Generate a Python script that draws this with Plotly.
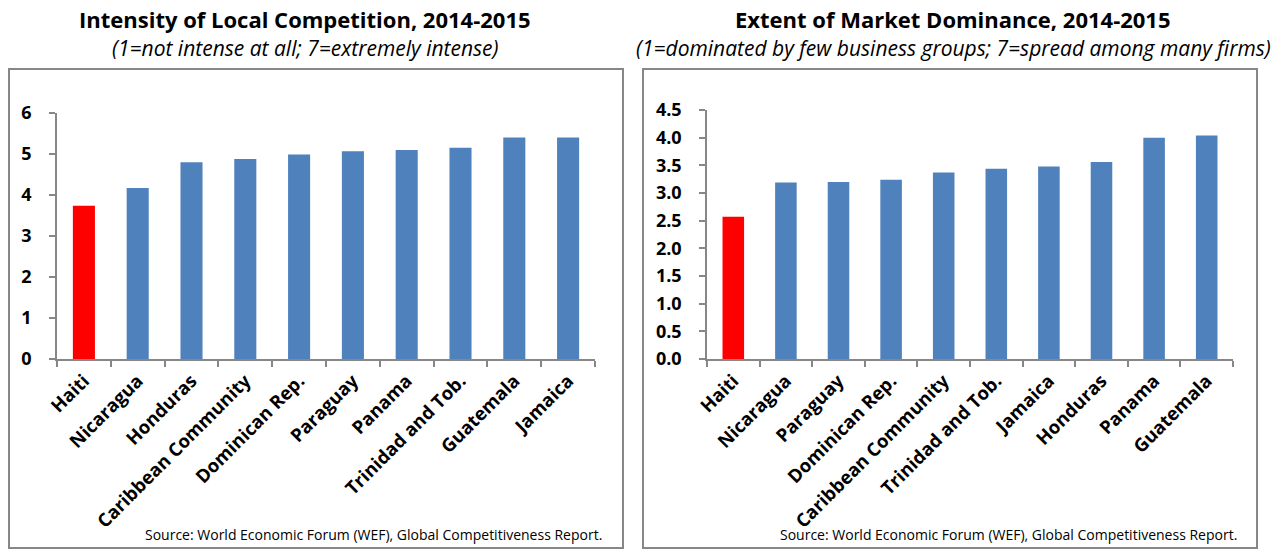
import plotly.graph_objects as go

# Left chart data
left_categories = ["Haiti", "Nicaragua", "Honduras", "Caribbean Community", "Dominican Rep.",
                   "Paraguay", "Panama", "Trinidad and Tob.", "Guatemala", "Jamaica"]
left_values = [3.74, 4.17, 4.80, 4.88, 4.99, 5.07, 5.10, 5.15, 5.40, 5.40]

# Right chart data
right_categories = ["Haiti", "Nicaragua", "Paraguay", "Dominican Rep.", "Caribbean Community",
                    "Trinidad and Tob.", "Jamaica", "Honduras", "Panama", "Guatemala"]
right_values = [2.57, 3.19, 3.20, 3.24, 3.37, 3.44, 3.48, 3.56, 4.00, 4.04]

left_title = "Intensity of Local Competition, 2014-2015"
left_subtitle = "(1=not intense at all; 7=extremely intense)"
right_title = "Extent of Market Dominance, 2014-2015"
right_subtitle = "(1=dominated by few business groups; 7=spread among many firms)"
source_text = "Source: World Economic Forum (WEF), Global Competitiveness Report."

W, H = 1278, 552
FONT = "Open Sans, sans-serif"
BLUE = "#4F81BD"
RED = "#FF0000"
GRAY = "#878787"


def fx(px):
    return px / W


def fy(py):
    return 1 - py / H


def colors(cats):
    return [RED if c == "Haiti" else BLUE for c in cats]


fig = go.Figure()
fig.add_trace(go.Bar(x=left_categories, y=left_values, marker_color=colors(left_categories),
                     marker_line_width=0, xaxis="x", yaxis="y", showlegend=False,
                     hoverinfo="x+y"))
fig.add_trace(go.Bar(x=right_categories, y=right_values, marker_color=colors(right_categories),
                     marker_line_width=0, xaxis="x2", yaxis="y2", showlegend=False,
                     hoverinfo="x+y"))

xcommon = dict(type="category", showline=True, linecolor=GRAY, linewidth=1.5,
               ticks="outside", tickson="boundaries", ticklen=6, tickcolor=GRAY,
               tickwidth=1.5, tickangle=-45, showgrid=False, zeroline=False,
               automargin=False, ticklabelstandoff=2,
               tickfont=dict(family=FONT, size=18.5, color="#000000", weight="bold"))
ycommon = dict(showline=True, linecolor=GRAY, linewidth=1.5, ticks="outside",
               ticklen=6, tickcolor=GRAY, tickwidth=1.5, showgrid=False,
               zeroline=False, automargin=False, ticklabelstandoff=14,
               tickfont=dict(family=FONT, size=18, color="#000000", weight="bold"))

fig.update_layout(
    width=W, height=H,
    margin=dict(l=0, r=0, t=0, b=0, pad=0),
    paper_bgcolor="white", plot_bgcolor="white",
    bargap=0.59,
    xaxis=dict(domain=[fx(57), fx(595)], anchor="y", **xcommon),
    yaxis=dict(domain=[fy(359), fy(113)], anchor="x", range=[0, 6], dtick=1,
               tickformat="d", **ycommon),
    xaxis2=dict(domain=[fx(707), fx(1233)], anchor="y2", **xcommon),
    yaxis2=dict(domain=[fy(359), fy(110)], anchor="x2", range=[0, 4.5], dtick=0.5,
                tickformat=".1f", **ycommon),
)

# frames
for x0, x1 in [(9, 623), (643, 1257)]:
    fig.add_shape(type="rect", xref="paper", yref="paper",
                  x0=fx(x0), x1=fx(x1), y0=fy(548), y1=fy(69),
                  line=dict(color=GRAY, width=2), layer="below")

anns = [
    (305, 19, left_title, 22, "bold", "normal"),
    (305, 48, left_subtitle, 21, "normal", "italic"),
    (953, 19, right_title, 22, "bold", "normal"),
    (953, 48, right_subtitle, 21, "normal", "italic"),
]
for x, y, t, s, w, st in anns:
    fig.add_annotation(xref="paper", yref="paper", x=fx(x), y=fy(y), text=t,
                       showarrow=False, xanchor="center", yanchor="middle",
                       font=dict(family=FONT, size=s, color="#000000", weight=w, style=st))
for xr in [604, 1239]:
    fig.add_annotation(xref="paper", yref="paper", x=fx(xr), y=fy(534), text=source_text,
                       showarrow=False, xanchor="right", yanchor="middle",
                       font=dict(family=FONT, size=14, color="#000000"))

fig.write_html("out.html", config={"displayModeBar": False},
               post_script="document.body.style.margin='0';document.body.style.overflow='hidden';")
